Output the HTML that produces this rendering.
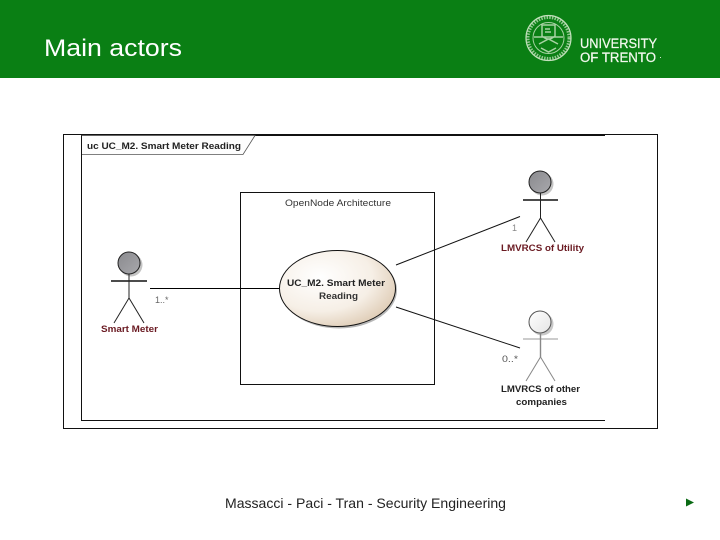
<!DOCTYPE html>
<html>
<head>
<meta charset="utf-8">
<style>
html,body{margin:0;padding:0;background:#fff;width:720px;height:540px;overflow:hidden}
svg{display:block}
text{font-family:"Liberation Sans",sans-serif}
</style>
</head>
<body>
<svg width="720" height="540" viewBox="0 0 720 540" xmlns="http://www.w3.org/2000/svg">
<defs>
<radialGradient id="uc" cx="35%" cy="35%" r="75%"><stop offset="0" stop-color="#fff"/><stop offset="0.6" stop-color="#f6efe6"/><stop offset="1" stop-color="#dcc8b0"/></radialGradient>
<linearGradient id="gh" x1="0" y1="0" x2="1" y2="1"><stop offset="0" stop-color="#8a8a8e"/><stop offset="1" stop-color="#a8a8ac"/></linearGradient>
<linearGradient id="lh" x1="0" y1="0" x2="1" y2="1"><stop offset="0" stop-color="#fff"/><stop offset="1" stop-color="#e4e4e4"/></linearGradient>
</defs>
<rect x="0" y="0" width="720" height="78" fill="#0a7f14"/>
<text x="44" y="56" font-size="24" fill="#fff" textLength="138" lengthAdjust="spacingAndGlyphs">Main actors</text>

<!-- logo -->
<g fill="none" stroke="#c3e0bc">
<circle cx="548.5" cy="38" r="22.5" stroke-width="1.2"/>
<circle cx="548.5" cy="38" r="20.5" stroke-width="3" stroke-dasharray="1.5 1.2" opacity=".75"/>
<circle cx="548.5" cy="38" r="15.5" stroke-width="1" opacity=".85"/>
<path d="M534 37H563M542 25h13v11q-6.500 6-13 0zM539 44l9.500-5 9.500 5M541 48l7.500 4 7.500-4M545 29h5M545 32h6" stroke-width="1.5" opacity=".85"/>
</g>
<text x="580" y="48" font-size="13.5" fill="#f2f8ee" stroke="#f2f8ee" stroke-width=".25" textLength="77" lengthAdjust="spacingAndGlyphs">UNIVERSITY</text>
<text x="580" y="62" font-size="13.5" fill="#f2f8ee" stroke="#f2f8ee" stroke-width=".25" textLength="76" lengthAdjust="spacingAndGlyphs">OF TRENTO</text>
<rect x="660" y="57" width="1" height="1" fill="#cfe6cc"/>

<!-- diagram frame -->
<rect x="63.500" y="134.500" width="594" height="294" fill="#fff" stroke="#111" stroke-width="1"/>
<path d="M605 135.500H81.500V420.500H605" fill="none" stroke="#111" stroke-width="1"/>
<path d="M81.500 135.500H255L243 154.500H81.500Z" fill="#fdfdfd" stroke="#555" stroke-width="0.8"/>
<path d="M81.500 135.500V420.500" stroke="#111" fill="none"/>
<text x="87" y="149" font-size="9" font-weight="bold" fill="#222" textLength="154" lengthAdjust="spacingAndGlyphs">uc UC_M2. Smart Meter Reading</text>

<!-- system boundary -->
<rect x="240.500" y="192.500" width="194" height="192" fill="#fff" stroke="#111"/>
<text x="285" y="206" font-size="9" fill="#333" textLength="106" lengthAdjust="spacingAndGlyphs">OpenNode Architecture</text>

<!-- connectors -->
<path d="M150 288.500H280" stroke="#000" fill="none"/>
<path d="M396 265L520 216.500" stroke="#111" fill="none"/>
<path d="M396 307L520 348" stroke="#111" fill="none"/>

<!-- use case -->
<ellipse cx="339" cy="290" rx="58" ry="38.500" fill="#999" opacity=".7"/>
<ellipse cx="337.500" cy="288.500" rx="58" ry="38" fill="url(#uc)" stroke="#111"/>
<text x="287" y="286" font-size="9" font-weight="bold" fill="#222" textLength="98" lengthAdjust="spacingAndGlyphs">UC_M2. Smart Meter</text>
<text x="319" y="299" font-size="9" font-weight="bold" fill="#333" textLength="39" lengthAdjust="spacingAndGlyphs">Reading</text>

<!-- Smart Meter actor -->
<circle cx="131" cy="265" r="11.500" fill="#c4c4c4"/>
<circle cx="129" cy="263" r="11" fill="url(#gh)" stroke="#222"/>
<path d="M111 281H147" stroke="#333" stroke-width="1.800" fill="none"/>
<path d="M129 274V298M114 323L129 298L144 323" stroke="#222" fill="none"/>
<text x="101" y="332" font-size="9" font-weight="bold" fill="#6a1a22" textLength="57" lengthAdjust="spacingAndGlyphs">Smart Meter</text>
<text x="155" y="303" font-size="9" fill="#666">1..*</text>

<!-- Utility actor -->
<circle cx="542" cy="184" r="11.500" fill="#c4c4c4"/>
<circle cx="540" cy="182" r="11" fill="url(#gh)" stroke="#222"/>
<path d="M523 200H558" stroke="#333" stroke-width="1.800" fill="none"/>
<path d="M540.500 193V218M526 242L540.500 218L555 242" stroke="#222" fill="none"/>
<text x="501" y="251" font-size="9" font-weight="bold" fill="#6a1a22" textLength="83" lengthAdjust="spacingAndGlyphs">LMVRCS of Utility</text>
<text x="512" y="231" font-size="9" fill="#888">1</text>

<!-- Other companies actor -->
<circle cx="542" cy="324" r="11.500" fill="#c8c8c8"/>
<circle cx="540" cy="322" r="11" fill="url(#lh)" stroke="#555"/>
<path d="M523 339H558" stroke="#999" fill="none"/>
<path d="M540.500 333V357" stroke="#888" stroke-width="1.400" fill="none"/>
<path d="M526 381L540.500 357L555 381" stroke="#888" fill="none"/>
<text x="501" y="392" font-size="9" font-weight="bold" fill="#222" textLength="79" lengthAdjust="spacingAndGlyphs">LMVRCS of other</text>
<text x="516" y="405" font-size="9" font-weight="bold" fill="#222" textLength="51" lengthAdjust="spacingAndGlyphs">companies</text>
<text x="502" y="362" font-size="9" fill="#555" textLength="16" lengthAdjust="spacingAndGlyphs">0..*</text>

<!-- footer -->
<text x="225" y="508" font-size="14" fill="#222" textLength="281" lengthAdjust="spacingAndGlyphs">Massacci - Paci - Tran - Security Engineering</text>
<path d="M686 498.500L694 502.500L686 506.500Z" fill="#0a6a14"/>
</svg>
</body>
</html>
